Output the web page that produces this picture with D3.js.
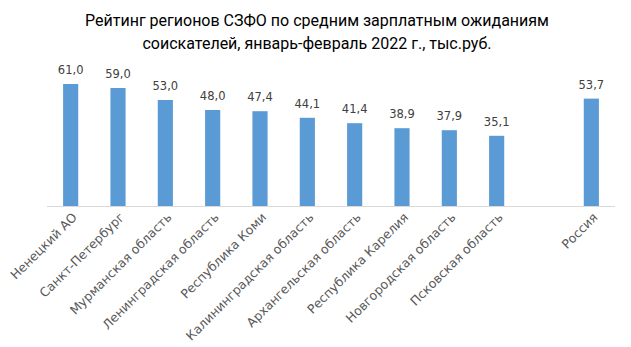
<!DOCTYPE html>
<html><head><meta charset="utf-8">
<script src="https://cdn.jsdelivr.net/npm/d3@7"></script>
<style>body{margin:0;background:#fff}</style>
</head><body>
<script>
const categories = ["Ненецкий АО","Санкт-Петербург","Мурманская область","Ленинградская область","Республика Коми","Калининградская область","Архангельская область","Республика Карелия","Новгородская область","Псковская область","","Россия"];
const values = [61.0,59.0,53.0,48.0,47.4,44.1,41.4,38.9,37.9,35.1,null,53.7];
const titleLines = ["Рейтинг регионов СЗФО по средним зарплатным ожиданиям","соискателей, январь-февраль 2022 г., тыс.руб."];

const W=631,H=347;
const svg=d3.select("body").append("svg").attr("width",W).attr("height",H);
const x=d3.scaleBand().domain(d3.range(categories.length)).range([47,615]).paddingInner(0.68).paddingOuter(0.34);
const y=d3.scaleLinear().domain([0,70]).range([206,66]);

svg.append("g").selectAll("text").data(titleLines).join("text")
  .attr("x",317).attr("y",(d,i)=>26+i*23).attr("text-anchor","middle")
  .attr("font-family","Roboto").attr("font-size",16).attr("fill","#000").text(d=>d);

const data=values.map((v,i)=>({i,v,c:categories[i]})).filter(d=>d.v!=null);
svg.append("g").selectAll("rect").data(data).join("rect")
  .attr("x",d=>x(d.i)).attr("width",x.bandwidth())
  .attr("y",d=>y(d.v)).attr("height",d=>y(0)-y(d.v)).attr("fill","#5B9BD5");

svg.append("line").attr("x1",47).attr("x2",615).attr("y1",y(0)+0.5).attr("y2",y(0)+0.5).attr("stroke","#D9D9D9");

svg.append("g").selectAll("text").data(data).join("text")
  .attr("x",d=>x(d.i)+x.bandwidth()/2).attr("y",d=>y(d.v)-10)
  .attr("text-anchor","middle").attr("font-family","DejaVu Sans").attr("font-size",11.5).attr("fill","#404040")
  .text(d=>d3.format(".1f")(d.v).replace(".",","));

svg.append("g").selectAll("text").data(data).join("text")
  .attr("transform",d=>`translate(${x(d.i)+x.bandwidth()/2+4},${215}) rotate(-45)`)
  .attr("text-anchor","end").attr("dy","0.35em").attr("font-family","DejaVu Sans").attr("font-size",12.5).attr("fill","#595959")
  .text(d=>d.c);
</script>
</body></html>
